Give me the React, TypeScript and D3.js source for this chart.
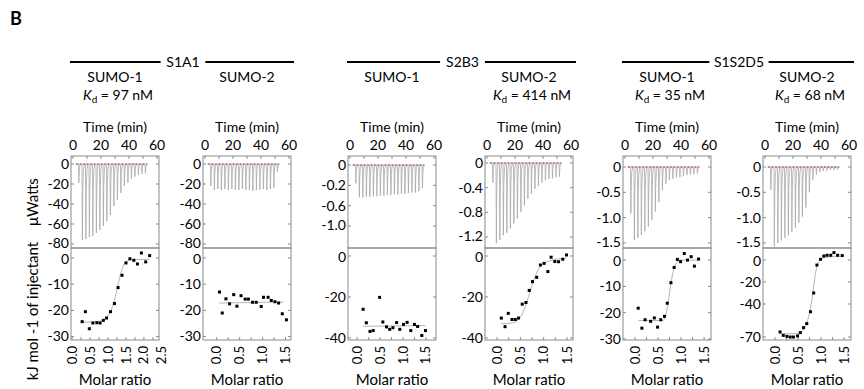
import React from 'react';
import * as d3 from 'd3';

// injection times (min), same schedule for every run
const injectionTimes = [4, 6.5, 9, 11.5, 14, 16.5, 19, 21.5, 24, 26.5, 29, 31.5, 34, 36.5, 39, 41.5, 44, 46.5, 49, 51.5];

// raw thermogram peak heights
const peaksS1A1Sumo1 = [-18.6, -76, -75, -73, -72, -69, -66, -62, -57, -51, -42, -36, -29, -22, -18.6, -15, -12.6, -11, -10, -9.3];
const peaksS1A1Sumo2 = [-22, -26, -25, -26, -25, -26, -25, -26, -26, -25, -26, -26, -27, -26, -26, -25, -26, -25, -24, -8];
const peaksS2B3Sumo1 = [-0.3, -0.53, -0.53, -0.52, -0.52, -0.51, -0.51, -0.5, -0.5, -0.49, -0.49, -0.48, -0.48, -0.47, -0.47, -0.46, -0.45, -0.45, -0.43, -0.38];
const peaksS2B3Sumo2 = [-0.32, -1.3, -1.25, -1.17, -1.13, -1.06, -0.98, -0.9, -0.79, -0.69, -0.58, -0.5, -0.42, -0.37, -0.32, -0.28, -0.26, -0.25, -0.23, -0.22];
const peaksS1S2D5Sumo1 = [-0.92, -1.44, -1.4, -1.34, -1.27, -1.18, -1.05, -0.88, -0.69, -0.46, -0.33, -0.26, -0.23, -0.21, -0.2, -0.18, -0.16, -0.15, -0.14, -0.13];
const peaksS1S2D5Sumo2 = [-0.45, -1.57, -1.5, -1.45, -1.4, -1.35, -1.28, -1.2, -1.1, -0.98, -0.8, -0.5, -0.25, -0.15, -0.1, -0.08, -0.07, -0.06, -0.06, -0.05];

// integrated heats (kJ/mol of injectant) vs molar ratio
const ratioS1A1Sumo1 = [0.28, 0.37, 0.48, 0.58, 0.69, 0.78, 0.87, 0.96, 1.07, 1.18, 1.28, 1.39, 1.5, 1.61, 1.72, 1.82, 1.93, 2.05, 2.16];
const heatS1A1Sumo1 = [-24.3, -20.5, -27, -24.8, -24.7, -24.8, -23.8, -22.9, -20.5, -17.4, -11.3, -6.6, -1.9, -0.3, -0.9, -2.3, 1.9, -1.5, 0.9];
const fitRatioS1A1Sumo1 = [0.28, 0.6, 0.85, 1.0, 1.1, 1.2, 1.3, 1.4, 1.5, 1.6, 1.8, 2.16];
const fitHeatS1A1Sumo1 = [-24.5, -24.4, -23.8, -22, -19.5, -15, -9, -4, -1.5, -0.8, -0.6, -0.5];

const ratioS1A1Sumo2 = [0.06, 0.12, 0.2, 0.28, 0.37, 0.44, 0.53, 0.62, 0.69, 0.78, 0.86, 0.97, 1.02, 1.12, 1.19, 1.27, 1.35, 1.43, 1.52];
const heatS1A1Sumo2 = [-13, -21, -15.6, -17.5, -14, -18.4, -14.4, -15.7, -15.7, -16.9, -16.9, -18.5, -15, -15, -16.2, -16.7, -17.2, -21.3, -23.6];
const fitRatioS1A1Sumo2 = [0.06, 1.45];
const fitHeatS1A1Sumo2 = [-17.2, -16.8];

const ratioS2B3Sumo1 = [0.13, 0.2, 0.28, 0.35, 0.49, 0.56, 0.64, 0.71, 0.78, 0.86, 0.93, 1.01, 1.09, 1.17, 1.25, 1.32, 1.41, 1.49];
const heatS2B3Sumo1 = [-26, -32.6, -36.8, -36.4, -20.2, -32.2, -34.6, -35.8, -35, -32.5, -35.8, -33.4, -32.4, -36.4, -33.4, -34.4, -38.8, -36.4];
const fitRatioS2B3Sumo1 = [0.13, 1.49];
const fitHeatS2B3Sumo1 = [-34.3, -34];

const ratioS2B3Sumo2 = [0.09, 0.17, 0.24, 0.32, 0.39, 0.46, 0.54, 0.62, 0.69, 0.76, 0.85, 0.93, 1.01, 1.09, 1.16, 1.24, 1.32, 1.41, 1.49];
const heatS2B3Sumo2 = [-30.3, -34.5, -28, -31, -31, -30.3, -23.5, -22.7, -16.8, -12.5, -10.4, -4.4, -3.6, -7.6, -0.6, -2.7, -2.8, -1.6, 0.5];
const fitRatioS2B3Sumo2 = [0.09, 0.3, 0.4, 0.5, 0.6, 0.7, 0.8, 0.9, 1.0, 1.1, 1.3, 1.49];
const fitHeatS2B3Sumo2 = [-33, -32.8, -32, -30, -25, -18, -11, -6, -3.5, -2.5, -1.5, -1];

const ratioS1S2D5Sumo1 = [0.07, 0.15, 0.22, 0.34, 0.42, 0.49, 0.56, 0.64, 0.7, 0.78, 0.85, 0.92, 0.99, 1.07, 1.14, 1.22, 1.29, 1.38];
const heatS1S2D5Sumo1 = [-18.3, -25.9, -22.7, -23.3, -22, -25.5, -22.7, -21.4, -16.4, -8.6, -2.8, 0.25, -0.6, 2.5, 0, 1.3, -2.3, 0.4];
const fitRatioS1S2D5Sumo1 = [0.07, 0.6, 0.66, 0.72, 0.78, 0.84, 0.9, 1.0, 1.38];
const fitHeatS1S2D5Sumo1 = [-23, -23, -21.5, -16, -9, -3.5, -1, 0, 0];

const ratioS1S2D5Sumo2 = [0.11, 0.18, 0.26, 0.33, 0.4, 0.49, 0.55, 0.62, 0.69, 0.77, 0.84, 0.91, 0.99, 1.06, 1.13, 1.21, 1.28, 1.36, 1.46];
const heatS1S2D5Sumo2 = [-65.4, -68.5, -69.4, -70, -70, -69, -66, -61.5, -57.8, -47, -30, -4.6, 0.6, 3.6, 4.3, 4.3, 6.7, 4.3, 4];
const fitRatioS1S2D5Sumo2 = [0.11, 0.5, 0.6, 0.7, 0.76, 0.8, 0.84, 0.88, 0.93, 1.0, 1.1, 1.46];
const fitHeatS1S2D5Sumo2 = [-67, -67, -64, -56, -46, -36, -24, -12, -3, 1, 2.5, 3.5];

// labels
const groupLabels = ['S1A1', 'S2B3', 'S1S2D5'];
const sumoLabels = ['SUMO-1', 'SUMO-2', 'SUMO-1', 'SUMO-2', 'SUMO-1', 'SUMO-2'];
const kdLabels = ['97 nM', '', '', '414 nM', '35 nM', '68 nM'];
const timeTicks = [0, 20, 40, 60];
const ratioTicksLong = [0, 0.5, 1, 1.5, 2, 2.5];
const ratioTicks = [0, 0.5, 1, 1.5];
const uwTicks = [0, -20, -40, -60, -80];
const uwTicksS2B3Sumo1 = [0, -1 / 3, -2 / 3, -1];
const uwTickLabelsS2B3Sumo1 = ['0', '-0.2', '-0.6', '-1.0'];
const uwTicksS2B3Sumo2 = [0, -0.4, -0.8, -1.2];
const uwTicksS1S2D5 = [0, -0.5, -1.0, -1.5];
const heatTicks30 = [0, -10, -20, -30];
const heatTicks40 = [0, -20, -40];
const heatTicksS1S2D5Sumo2 = [0, -20, -40, -70];

const W = 864;
const H = 389;
const boxW = 88;
const topY0 = 156;
const midY = 248;
const botY1 = 340;
const font = 'Lato, "Open Sans", sans-serif';
const frameColor = '#8a8a8a';

const fmt1 = (v: number) => v.toFixed(1);
const fmtUw = (v: number) => (v === 0 ? '0' : String(v));
const fmtUw1 = (v: number) => (v === 0 ? '0' : v.toFixed(1));

const panels = [
  { left: 71, peaks: peaksS1A1Sumo1, uw: [-84, 8], uwTicks, uwLabels: uwTicks.map(fmtUw),
    rx: [-0.03, 2.42], rTicks: ratioTicksLong, hy: [-31.3, 3.8], hTicks: heatTicks30,
    ratio: ratioS1A1Sumo1, heat: heatS1A1Sumo1, fitR: fitRatioS1A1Sumo1, fitH: fitHeatS1A1Sumo1 },
  { left: 203, peaks: peaksS1A1Sumo2, uw: [-84, 8], uwTicks, uwLabels: uwTicks.map(fmtUw),
    rx: [-0.3, 1.62], rTicks: ratioTicks, hy: [-31.3, 3.8], hTicks: heatTicks30,
    ratio: ratioS1A1Sumo2, heat: heatS1A1Sumo2, fitR: fitRatioS1A1Sumo2, fitH: fitHeatS1A1Sumo2 },
  { left: 348, peaks: peaksS2B3Sumo1, uw: [-1.36, 0.148], uwTicks: uwTicksS2B3Sumo1, uwLabels: uwTickLabelsS2B3Sumo1,
    rx: [-0.2, 1.72], rTicks: ratioTicks, hy: [-41, 3.9], hTicks: heatTicks40,
    ratio: ratioS2B3Sumo1, heat: heatS2B3Sumo1, fitR: fitRatioS2B3Sumo1, fitH: fitHeatS2B3Sumo1 },
  { left: 485, peaks: peaksS2B3Sumo2, uw: [-1.378, 0.113], uwTicks: uwTicksS2B3Sumo2, uwLabels: uwTicksS2B3Sumo2.map(fmtUw),
    rx: [-0.26, 1.63], rTicks: ratioTicks, hy: [-41, 3.9], hTicks: heatTicks40,
    ratio: ratioS2B3Sumo2, heat: heatS2B3Sumo2, fitR: fitRatioS2B3Sumo2, fitH: fitHeatS2B3Sumo2 },
  { left: 623, peaks: peaksS1S2D5Sumo1, uw: [-1.6, 0.217], uwTicks: uwTicksS1S2D5, uwLabels: uwTicksS1S2D5.map(fmtUw1),
    rx: [-0.26, 1.65], rTicks: ratioTicks, hy: [-30.4, 4.6], hTicks: heatTicks30,
    ratio: ratioS1S2D5Sumo1, heat: heatS1S2D5Sumo1, fitR: fitRatioS1S2D5Sumo1, fitH: fitHeatS1S2D5Sumo1 },
  { left: 763, peaks: peaksS1S2D5Sumo2, uw: [-1.6, 0.217], uwTicks: uwTicksS1S2D5, uwLabels: uwTicksS1S2D5.map(fmtUw1),
    rx: [-0.26, 1.65], rTicks: ratioTicks, hy: [-72.7, 10.9], hTicks: heatTicksS1S2D5Sumo2,
    ratio: ratioS1S2D5Sumo2, heat: heatS1S2D5Sumo2, fitR: fitRatioS1S2D5Sumo2, fitH: fitHeatS1S2D5Sumo2 },
];

const Panel = ({ p, i }: { p: any; i: number }) => {
  const x0 = p.left;
  const x1 = p.left + boxW;
  const tx = d3.scaleLinear().domain([-1.4, 61.4]).range([x0, x1]);
  const uy = d3.scaleLinear().domain(p.uw).range([midY, topY0]);
  const rx = d3.scaleLinear().domain(p.rx).range([x0, x1]);
  const hy = d3.scaleLinear().domain(p.hy).range([botY1, midY]);

  // thermogram: each injection drawn as a sharp spike returning to baseline
  const trace: [number, number][] = [[2, 0]];
  injectionTimes.forEach((t, k) => {
    const d = p.peaks[k];
    trace.push([t - 0.05, 0], [t + 0.2, d], [t + 0.5, d * 0.35], [t + 0.9, d * 0.1], [t + 1.6, 0]);
  });
  trace.push([53, 0]);
  const traceLine = d3.line<[number, number]>().x((d) => tx(d[0])).y((d) => uy(d[1]));

  const fitLine = d3
    .line<number>()
    .x((_, k) => rx(p.fitR[k]))
    .y((d) => hy(d))
    .curve(d3.curveMonotoneX);

  const minorTime = d3.range(0, 61, 10);
  const minorRatio = d3.range(0, p.rTicks[p.rTicks.length - 1] + 0.01, 0.25).filter((v: number) => rx(v) <= x1);

  return (
    <g>
      <rect x={x0} y={topY0} width={boxW} height={midY - topY0} fill="none" stroke={frameColor} />
      <rect x={x0} y={midY} width={boxW} height={botY1 - midY} fill="none" stroke={frameColor} />
      {minorTime.map((v) => (
        <line key={'tt' + v} x1={tx(v)} x2={tx(v)} y1={topY0} y2={topY0 + 3} stroke={frameColor} />
      ))}
      {p.uwTicks.map((v: number, k: number) => (
        <g key={'ut' + k}>
          <line x1={x0} x2={x0 + 3} y1={uy(v)} y2={uy(v)} stroke={frameColor} />
          <line x1={x1 - 3} x2={x1} y1={uy(v)} y2={uy(v)} stroke={frameColor} />
          <text x={x0 - 2} y={uy(v) - (k === p.uwTicks.length - 1 ? 1 : 0)} dy="0.35em" textAnchor="end" fontSize={14}>
            {p.uwLabels[k]}
          </text>
        </g>
      ))}
      {timeTicks.map((v) => (
        <text key={'tl' + v} x={tx(v)} y={150} textAnchor="middle" fontSize={14}>
          {v}
        </text>
      ))}
      <text x={(x0 + x1) / 2} y={132} textAnchor="middle" fontSize={14}>
        Time (min)
      </text>
      <path d={traceLine(trace) || ''} fill="none" stroke="#a8a8a8" strokeWidth={0.8} />
      <line x1={tx(2)} x2={tx(53)} y1={uy(0)} y2={uy(0)} stroke="#9b2d2d" strokeWidth={1.1} strokeDasharray="2,1.5" />

      {minorRatio.map((v: number) => (
        <line key={'rt' + v} x1={rx(v)} x2={rx(v)} y1={botY1} y2={botY1 - 3} stroke={frameColor} />
      ))}
      {p.hTicks.map((v: number) => (
        <g key={'ht' + v}>
          <line x1={x0} x2={x0 + 3} y1={hy(v)} y2={hy(v)} stroke={frameColor} />
          <line x1={x1 - 3} x2={x1} y1={hy(v)} y2={hy(v)} stroke={frameColor} />
          <text x={x0 - 2} y={hy(v) + (v === 0 ? 1 : 0)} dy="0.35em" textAnchor="end" fontSize={14}>
            {v}
          </text>
        </g>
      ))}
      {p.rTicks.map((v: number) => (
        <text
          key={'rl' + v}
          transform={`translate(${rx(v)},${346}) rotate(-90)`}
          dy="0.35em"
          textAnchor="end"
          fontSize={13}
        >
          {fmt1(v)}
        </text>
      ))}
      <text x={(x0 + x1) / 2} y={385} textAnchor="middle" fontSize={15}>
        Molar ratio
      </text>
      <path d={fitLine(p.fitH) || ''} fill="none" stroke="#b5b5b5" strokeWidth={1} />
      {p.heat.map((v: number, k: number) => (
        <rect key={'pt' + k} x={rx(p.ratio[k]) - 1.5} y={hy(v) - 1.5} width={3} height={3} fill="#000" />
      ))}

      <text x={(x0 + x1) / 2} y={82} textAnchor="middle" fontSize={14}>
        {sumoLabels[i]}
      </text>
      {kdLabels[i] && (
        <text x={(x0 + x1) / 2 + 3} y={100} textAnchor="middle" fontSize={14}>
          <tspan fontStyle="italic">K</tspan>
          <tspan fontSize={10} dy={3}>d</tspan>
          <tspan dy={-3}>{' = ' + kdLabels[i]}</tspan>
        </text>
      )}
    </g>
  );
};

const App = () => {
  return (
    <svg
      width={W}
      height={H}
      style={{ position: 'absolute', left: 0, top: 0, background: '#fff' }}
      fontFamily={font}
    >
      <text x={10} y={25} fontSize={18} fontWeight="bold">
        B
      </text>
      {groupLabels.map((g, k) => {
        const a = panels[k * 2];
        const b = panels[k * 2 + 1];
        const c = (a.left + boxW + b.left) / 2 + 2;
        const gap = g.length * 3.6 + 8;
        return (
          <g key={g}>
            <line x1={a.left - 1} x2={c - gap} y1={62} y2={62} stroke="#000" strokeWidth={2} />
            <line x1={c + gap} x2={b.left + boxW + 3} y1={62} y2={62} stroke="#000" strokeWidth={2} />
            <text x={c} y={67} textAnchor="middle" fontSize={14}>
              {g}
            </text>
          </g>
        );
      })}
      {panels.map((p, i) => (
        <Panel key={i} p={p} i={i} />
      ))}
      <text transform="translate(38,202) rotate(-90)" textAnchor="middle" fontSize={15}>
        μWatts
      </text>
      <text transform="translate(38,311) rotate(-90)" textAnchor="middle" fontSize={15}>
        kJ mol -1 of injectant
      </text>
    </svg>
  );
};

export default App;
